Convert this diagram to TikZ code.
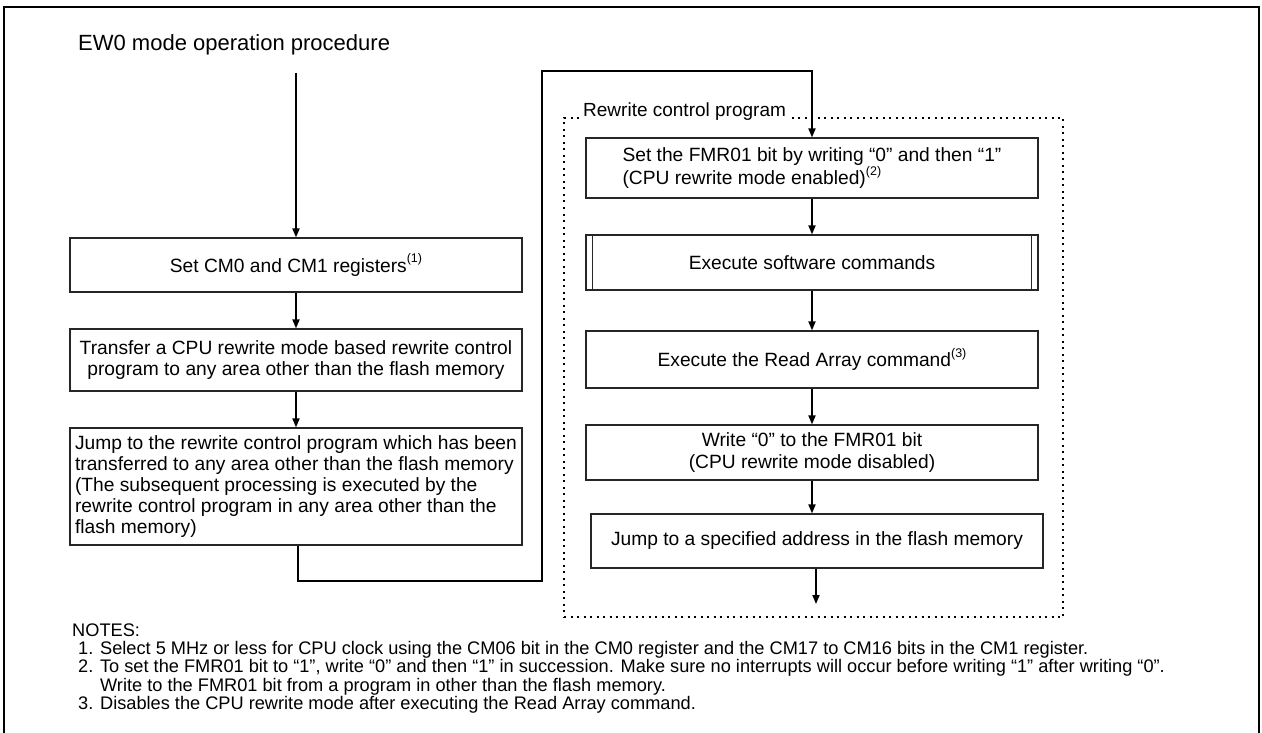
\documentclass[tikz,border=0pt]{standalone}
\usepackage{fontspec}
\setmainfont{Liberation Sans}
\usetikzlibrary{arrows.meta}
\newcommand\supn[1]{\raisebox{0.5em}{\fontsize{12.5}{12.5}\selectfont(#1)}}
\begin{document}
\begin{tikzpicture}[x=1pt,y=-1pt,
  box/.style={draw=black!85,line width=1.2pt,minimum width=452pt,inner sep=0pt,
    font=\fontsize{19.2}{21.2}\selectfont,align=center},
  conn/.style={line width=1.8pt,-{Triangle[length=9pt,width=7pt]}},
  wire/.style={line width=1.8pt},
  frame/.style={line width=2.4pt},
  dotbox/.style={draw,line width=1.3pt,dash pattern=on 2pt off 4.5pt},
  ]
\useasboundingbox (0,0) rectangle (1262,733);
% outer frame (open at the bottom)
\coordinate (f1) at (4,740);
\coordinate (f2) at (4,7);
\coordinate (f3) at (1259,7);
\coordinate (f4) at (1259,740);
\draw[frame] (f1) -- (f2) -- (f3) -- (f4);

\node[anchor=base west,inner sep=0pt,font=\fontsize{22}{26}\selectfont] (title) at (78,51) {EW0 mode operation procedure};

% left column
\node[box,minimum height=54pt] (b1) at (296,265) {Set CM0 and CM1 registers\supn{1}};
\node[box,minimum height=62pt] (b2) at (296,360) {Transfer a CPU rewrite mode based rewrite control\\program to any area other than the flash memory};
\node[box,minimum height=117pt,align=left] (b3) at (296,486.5) {Jump to the rewrite control program which has been\\transferred to any area other than the flash memory\\(The subsequent processing is executed by the\\rewrite control program in any area other than the\\flash memory)};

% dotted region
\node[dotbox,minimum width=499pt,minimum height=499pt] (rcp) at (813.5,367.5) {};
\node[anchor=base west,fill=white,inner xsep=3pt,inner ysep=0pt,font=\fontsize{19}{21}\selectfont] (rcpl) at (580,117) {Rewrite control program};

% right column
\node[box,minimum height=60pt,align=left] (b4) at (812,168) {Set the FMR01 bit by writing “0” and then “1”\\(CPU rewrite mode enabled)\supn{2}};
\node[box,minimum height=55pt] (b5) at (812,262.5) {Execute software commands};
\draw[line width=1.2pt,black!85] ([xshift=7pt]b5.north west) -- ([xshift=7pt]b5.south west);
\draw[line width=1.2pt,black!85] ([xshift=-7pt]b5.north east) -- ([xshift=-7pt]b5.south east);
\node[box,minimum height=57pt] (b6) at (812,359.5) {Execute the Read Array command\supn{3}};
\node[box,minimum height=55pt] (b7) at (812,452.5) {Write “0” to the FMR01 bit\\(CPU rewrite mode disabled)};
\node[box,minimum height=54pt] (b8) at (817,541) {Jump to a specified address in the flash memory};

% connectors
\coordinate (start) at (296,73);
\draw[conn] (start) -- (b1.north);
\draw[conn] (b1.south) -- (b2.north);
\draw[conn] (b2.south) -- (b3.north);
\coordinate (k1) at (542,581);
\coordinate (k2) at (542,71);
\draw[conn] ([xshift=2pt]b3.south) |- (k1) -- (k2) -| (b4.north);
\draw[conn] (b4.south) -- (b5.north);
\draw[conn] (b5.south) -- (b6.north);
\draw[conn] (b6.south) -- (b7.north);
\draw[conn] (b7.south) -- (b7.south |- b8.north);
\coordinate (end) at (816,604);
\draw[conn] (b8.south -| end) -- (end);

% notes
\node[anchor=base west,align=left,inner sep=0pt,font=\fontsize{18.2}{18.3}\selectfont] (notes) at (72,709.5) {NOTES:\\
\hspace*{6pt}1. Select 5 MHz or less for CPU clock using the CM06 bit in the CM0 register and the CM17 to CM16 bits in the CM1 register.\\
\hspace*{6pt}2. To set the FMR01 bit to “1”, write “0” and then “1” in succession. Make sure no interrupts will occur before writing “1” after writing “0”.\\
\hspace*{6pt}\phantom{2. }Write to the FMR01 bit from a program in other than the flash memory.\\
\hspace*{6pt}3. Disables the CPU rewrite mode after executing the Read Array command.};
\end{tikzpicture}
\end{document}
